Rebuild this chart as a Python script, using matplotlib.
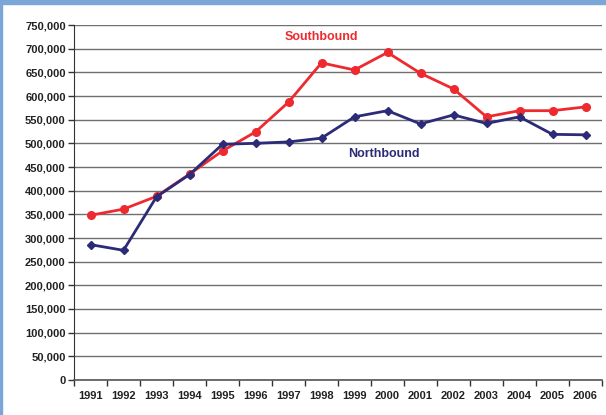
import matplotlib
matplotlib.use("Agg")
import matplotlib.pyplot as plt
from matplotlib.patches import Rectangle
from matplotlib.ticker import FuncFormatter, MultipleLocator, FixedLocator

years = [str(y) for y in range(1991, 2007)]
southbound = [348000, 361000, 388000, 435000, 484000, 524000, 587000, 670000,
              655000, 692000, 648000, 615000, 556000, 569000, 569000, 577000]
northbound = [286000, 274000, 387000, 434000, 498000, 500000, 503000, 511000,
              556000, 569000, 541000, 560000, 542000, 556000, 519000, 518000]

plt.rcParams['font.family'] = ['Liberation Sans', 'DejaVu Sans']

fig = plt.figure(figsize=(6.06, 4.15), dpi=100)
W, H = 606, 415
ax = fig.add_axes([74 / W, 1 - 380 / H, (602 - 74) / W, (380 - 25) / H])

x = list(range(len(years)))
red = '#ee2a2f'
navy = '#2b2b78'
ax.plot(x, southbound, color=red, lw=2, marker='o', ms=5.5, zorder=3)
ax.plot(x, northbound, color=navy, lw=2, marker='D', ms=4, zorder=4)

ax.set_xlim(-0.5, len(years) - 0.5)
ax.set_ylim(0, 750000)
ax.yaxis.set_major_locator(MultipleLocator(50000))
ax.yaxis.set_major_formatter(FuncFormatter(lambda v, p: f"{int(v):,}"))
ax.grid(axis='y', color='#707070', lw=1)
ax.set_axisbelow(True)

ax.set_xticks(x)
ax.set_xticklabels(years)
ax.tick_params(axis='x', which='major', length=0, pad=8)
ax.xaxis.set_minor_locator(FixedLocator([i - 0.5 for i in range(len(years) + 1)]))
ax.tick_params(axis='x', which='minor', length=4, width=1, color='#333333', direction='out')
ax.tick_params(axis='y', length=4, width=1, color='#333333', pad=2)
for lab in ax.get_xticklabels() + ax.get_yticklabels():
    lab.set_fontsize(8)
    lab.set_fontweight('bold')
    lab.set_color('#222222')

for s in ['top', 'right']:
    ax.spines[s].set_visible(False)
ax.spines['left'].set_color('#333333')
ax.spines['bottom'].set_color('#555555')
ax.spines['bottom'].set_linewidth(1.2)

ax.text(7.0, 725000, 'Southbound', color=red, fontsize=9, fontweight='bold', ha='center', va='center')
ax.text(8.9, 477000, 'Northbound', color=navy, fontsize=9, fontweight='bold', ha='center', va='center')

border = '#7ba7d8'
fig.patches.append(Rectangle((0, 1 - 4 / H), 1, 4 / H, transform=fig.transFigure, color=border, zorder=10))
fig.patches.append(Rectangle((0, 0), 2 / W, 1, transform=fig.transFigure, color=border, zorder=10))

fig.savefig('out.png', dpi=100)
